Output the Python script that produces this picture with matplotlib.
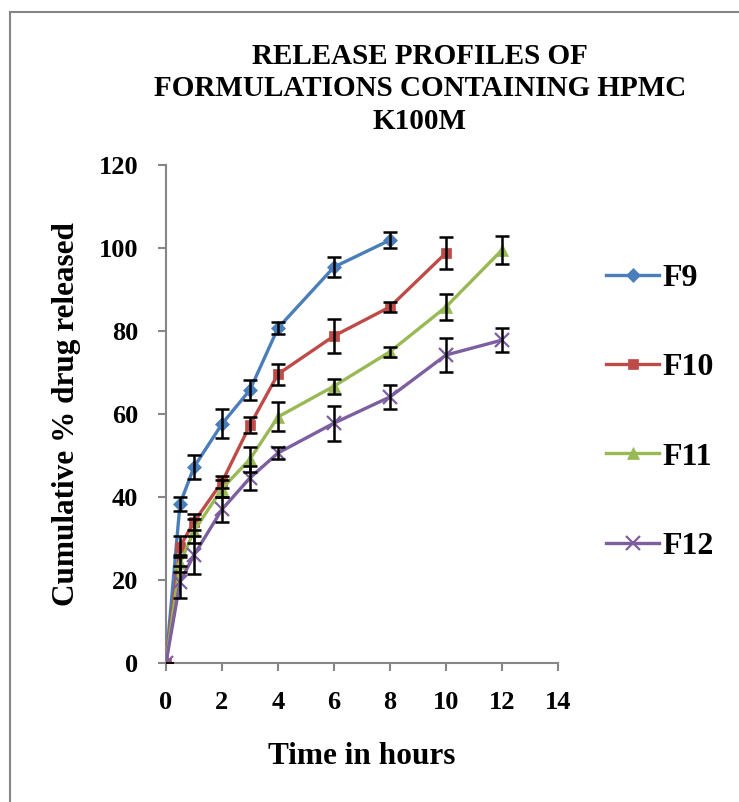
import matplotlib.pyplot as plt
from matplotlib.patches import Rectangle

time_f9 = [0, 0.5, 1, 2, 3, 4, 6, 8]
f9 = [0, 38.3, 47.2, 57.6, 65.8, 80.7, 95.4, 101.9]
f9_err = [0, 1.7, 2.9, 3.5, 2.5, 1.5, 2.4, 1.9]

time_f10 = [0, 0.5, 1, 2, 3, 4, 6, 8, 10]
f10 = [0, 28.0, 34.0, 43.6, 57.3, 69.6, 78.8, 85.8, 98.8]
f10_err = [0, 2.5, 2.0, 1.5, 2.0, 2.5, 4.0, 1.3, 3.9]

time_f11 = [0, 0.5, 1, 2, 3, 4, 6, 8, 10, 12]
f11 = [0, 24.0, 31.8, 42.0, 49.1, 59.3, 66.7, 75.0, 85.8, 99.5]
f11_err = [0, 2.0, 3.0, 2.0, 3.0, 3.5, 1.8, 1.2, 3.1, 3.4]

time_f12 = [0, 0.5, 1, 2, 3, 4, 6, 8, 10, 12]
f12 = [0, 19.5, 26.0, 37.0, 44.6, 50.6, 57.8, 64.1, 74.2, 77.8]
f12_err = [0, 3.8, 4.5, 3.1, 2.8, 1.5, 4.2, 3.0, 4.1, 2.9]

series = [
    ('F9', time_f9, f9, f9_err, '#4A7EBB', 'D', 7),
    ('F10', time_f10, f10, f10_err, '#BE4B48', 's', 7),
    ('F11', time_f11, f11, f11_err, '#98B954', '^', 9),
    ('F12', time_f12, f12, f12_err, '#7D5FA0', 'x', 10),
]

plt.rcParams['font.family'] = 'Liberation Serif'
plt.rcParams['font.weight'] = 'bold'

fig = plt.figure(figsize=(7.39, 8.02), dpi=100)
ax = fig.add_axes([0.2246, 0.1733, 0.5304, 0.621])

for name, t, y, err, color, marker, ms in series:
    ax.plot(t, y, color=color, marker=marker, markersize=ms, linewidth=2.4,
            markeredgewidth=1.6 if marker == 'x' else 0.5, markeredgecolor=color,
            label=name, zorder=3)
    ax.errorbar(t, y, yerr=err, fmt='none', ecolor='black', elinewidth=1.8,
                capsize=5, capthick=1.8, zorder=4)

ax.set_xlim(0, 14)
ax.set_ylim(0, 120)
ax.set_xticks(range(0, 15, 2))
ax.set_yticks(range(0, 121, 20))

for side in ['top', 'right']:
    ax.spines[side].set_visible(False)
for side in ['left', 'bottom']:
    ax.spines[side].set_color('#868686')
    ax.spines[side].set_linewidth(1.5)
ax.tick_params(axis='both', direction='out', color='#868686', width=1.5,
               length=6, labelsize=19)
ax.tick_params(axis='x', pad=14)
ax.tick_params(axis='y', pad=14)

ax.set_xlabel('Time in hours', fontsize=22.5, fontweight='bold', labelpad=20)
ax.set_ylabel('Cumulative % drug released', fontsize=22.5, fontweight='bold', labelpad=13)

fig.text(0.568, 1 - 89 / 802, 'RELEASE PROFILES OF\nFORMULATIONS CONTAINING HPMC\nK100M',
         ha='center', va='center', fontsize=21, fontweight='bold', linespacing=1.28)

ax.legend(loc='upper left', bbox_to_anchor=(1.05, 0.86), frameon=False,
          fontsize=23, labelspacing=1.88, handlelength=1.65, handletextpad=0.1)

fig.patches.append(Rectangle((10 / 739, -0.1), 1.2, 1 - 12 / 802 + 0.1,
                             transform=fig.transFigure, fill=False,
                             edgecolor='#868686', linewidth=1.5))

fig.savefig('out.png', dpi=100)
